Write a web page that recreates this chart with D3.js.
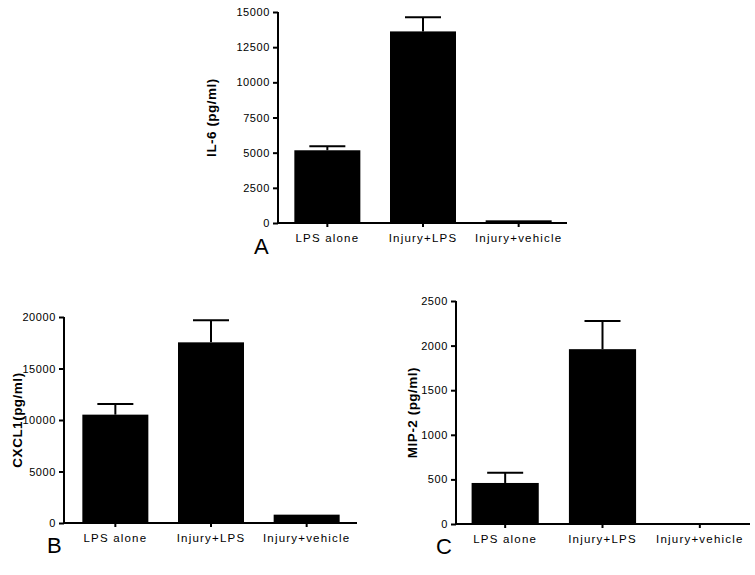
<!DOCTYPE html>
<html>
<head>
<meta charset="utf-8">
<script src="https://cdn.jsdelivr.net/npm/d3@7"></script>
<style>
  body { margin: 0; background: #fff; }
  svg { font-family: "Liberation Sans", Arial, sans-serif; }
  .tick text { font-size: 11px; letter-spacing: 0.6px; fill: #000; }
  .tick text.cat { font-size: 11.5px; letter-spacing: 1.2px; }
  .ylab { font-size: 13.5px; font-weight: bold; letter-spacing: 0.5px; }
  .panel { font-size: 22px; }
</style>
</head>
<body>
<svg id="chart" width="755" height="575"></svg>
<script>
const categories = ['LPS alone', 'Injury+LPS', 'Injury+vehicle'];

const il6 = [5170, 13620, 190];
const il6Err = [290, 1000, 0];
const il6Ticks = [0, 2500, 5000, 7500, 10000, 12500, 15000];

const cxcl1 = [10520, 17540, 810];
const cxcl1Err = [1040, 2140, 0];
const cxcl1Ticks = [0, 5000, 10000, 15000, 20000];

const mip2 = [460, 1960, 3];
const mip2Err = [115, 315, 0];
const mip2Ticks = [0, 500, 1000, 1500, 2000, 2500];

const svg = d3.select('#chart');

// one block per panel: where the plot sits on the page
const panels = [
  {letter: 'A', label: 'IL-6 (pg/ml)', values: il6, errs: il6Err, ticks: il6Ticks,
    left: 278, right: 567, top: 12, bottom: 223, bandL: 280, bandR: 566, labelX: 211, letterX: 254, letterY: 254},
  {letter: 'B', label: 'CXCL1(pg/ml)', values: cxcl1, errs: cxcl1Err, ticks: cxcl1Ticks,
    left: 64, right: 357, top: 317, bottom: 523, bandL: 68, bandR: 354, labelX: 17, letterX: 47, letterY: 553},
  {letter: 'C', label: 'MIP-2 (pg/ml)', values: mip2, errs: mip2Err, ticks: mip2Ticks,
    left: 456, right: 750, top: 301, bottom: 524, bandL: 457, bandR: 748, labelX: 412, letterX: 436, letterY: 554}
];

panels.forEach(drawPanel);

function drawPanel(p) {
  const y = d3.scaleLinear()
    .domain([0, d3.max(p.ticks)])
    .range([p.bottom, p.top]);

  const x = d3.scaleBand()
    .domain(categories)
    .range([p.bandL, p.bandR])
    .paddingInner(0.31)
    .paddingOuter(0.15);

  const g = svg.append('g');

  const data = categories.map((c, i) => ({cat: c, v: p.values[i], e: p.errs[i]}));

  // error bars (upper half only)
  const err = g.selectAll('.err')
    .data(data.filter(d => d.e > 0))
    .enter().append('g')
    .attr('stroke', '#000')
    .attr('stroke-width', 2);

  err.append('line')
    .attr('x1', d => x(d.cat) + x.bandwidth() / 2)
    .attr('x2', d => x(d.cat) + x.bandwidth() / 2)
    .attr('y1', d => y(d.v))
    .attr('y2', d => y(d.v + d.e));

  err.append('line')
    .attr('x1', d => x(d.cat) + x.bandwidth() / 2 - 18)
    .attr('x2', d => x(d.cat) + x.bandwidth() / 2 + 18)
    .attr('y1', d => y(d.v + d.e))
    .attr('y2', d => y(d.v + d.e));

  g.selectAll('.bar')
    .data(data)
    .enter().append('rect')
    .attr('class', 'bar')
    .attr('x', d => x(d.cat))
    .attr('width', x.bandwidth())
    .attr('y', d => y(d.v))
    .attr('height', d => p.bottom - y(d.v))
    .attr('fill', '#000');

  // y axis
  const yAxis = g.append('g')
    .attr('transform', `translate(${p.left},0)`)
    .call(d3.axisLeft(y).tickValues(p.ticks).tickSize(5).tickSizeOuter(0).tickPadding(3).tickFormat(d3.format('d')));
  yAxis.selectAll('path, line').attr('stroke', '#000').attr('stroke-width', 2);
  yAxis.select('.domain').attr('d', `M0,${p.bottom}V${p.top}`);

  // x axis
  const xAxis = g.append('g')
    .attr('transform', `translate(0,${p.bottom})`)
    .call(d3.axisBottom(x).tickSize(4).tickSizeOuter(0).tickPadding(5));
  xAxis.select('.domain').attr('d', `M${p.left - 1},0H${p.right}`);
  xAxis.selectAll('path, line').attr('stroke', '#000').attr('stroke-width', 2);
  xAxis.selectAll('.tick text').attr('class', 'cat').attr('dy', '0.9em');

  // y axis title
  g.append('text')
    .attr('class', 'ylab')
    .attr('transform', `translate(${p.labelX},${(p.top + p.bottom) / 2}) rotate(-90)`)
    .attr('text-anchor', 'middle')
    .attr('dy', '0.35em')
    .text(p.label);

  // panel letter
  g.append('text')
    .attr('class', 'panel')
    .attr('x', p.letterX)
    .attr('y', p.letterY)
    .text(p.letter);
}
</script>
</body>
</html>
